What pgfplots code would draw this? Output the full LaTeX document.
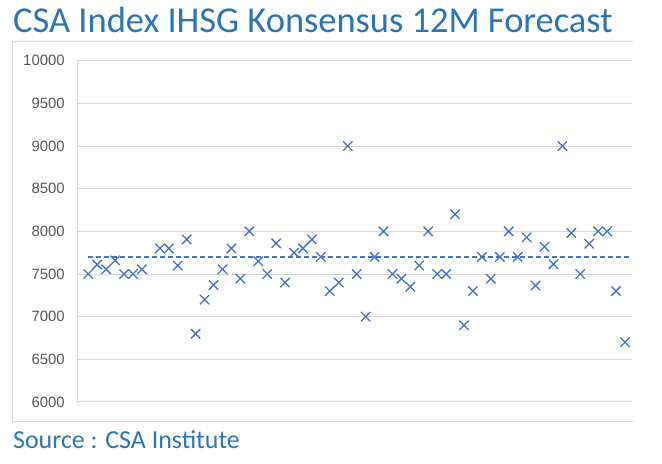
\documentclass[border=0pt]{standalone}
\usepackage{pgfplots}
\pgfplotsset{compat=1.18}
\usepackage{fontspec}
\setmainfont{Liberation Sans}
\newfontfamily\carlito{Carlito}
\definecolor{mblue}{RGB}{68,114,196}
\definecolor{tblue}{RGB}{46,117,182}
\definecolor{gridgray}{RGB}{217,217,217}
\definecolor{labgray}{RGB}{89,89,89}
\begin{document}
\begin{tikzpicture}[x=1bp,y=1bp]
\useasboundingbox (0,0) rectangle (662,464);
\draw[gridgray, line width=1bp] (633,422) -- (12,422) -- (12,42) -- (633,42);
\node[anchor=base west, inner sep=0pt, text=tblue, font=\carlito\fontsize{36.6}{36.6}\selectfont] at (13,431) {CSA Index IHSG Konsensus 12M Forecast};
\node[anchor=base west, inner sep=0pt, text=tblue, font=\carlito\fontsize{26}{26}\selectfont] at (13,15.7) {Source : CSA Institute};
\begin{axis}[
  at={(77bp,62bp)}, anchor=south west,
  scale only axis, width=555bp, height=341.3bp,
  xmin=-0.263, xmax=61.78, ymin=6000, ymax=10000,
  xtick=\empty,
  ytick={6000,6500,...,10000},
  scaled y ticks=false,
  yticklabel={\pgfmathprintnumber[fixed,precision=0,1000 sep={}]{\tick}},
  ymajorgrids, grid style={color=gridgray, line width=1bp},
  axis x line*=bottom, axis y line*=left,
  axis line style={color=gridgray, line width=1bp},
  major tick length=0pt,
  /pgf/number format/1000 sep={},
  /pgf/number format/assume math mode=true,
  yticklabel style={font=\fontsize{15}{15}\selectfont, text=labgray, inner sep=0pt, xshift=-12bp},
  clip=false,
]
\addplot[color=mblue, line width=2.6bp, dash pattern=on 5bp off 3bp] coordinates {(1,7700) (61.78,7700)};
\addplot[only marks, mark=x, mark size=6.6bp, color=mblue, mark options={line width=1.3bp}] table {
x y
1 7500
2 7610
3 7555
4 7660
5 7500
6 7500
7 7555
9 7800
10 7800
11 7600
12 7905
13 6800
14 7200
15 7370
16 7555
17 7800
18 7445
19 8000
20 7650
21 7500
22 7860
23 7400
24 7750
25 7800
26 7905
27 7700
28 7300
29 7400
30 9000
31 7500
32 7000
33 7700
34 8000
35 7500
36 7445
37 7350
38 7600
39 8000
40 7500
41 7500
42 8200
43 6900
44 7300
45 7700
46 7445
47 7700
48 8000
49 7700
50 7930
51 7365
52 7820
53 7615
54 9000
55 7980
56 7500
57 7855
58 8000
59 8000
60 7300
61 6700
};
\end{axis}
\end{tikzpicture}
\end{document}
